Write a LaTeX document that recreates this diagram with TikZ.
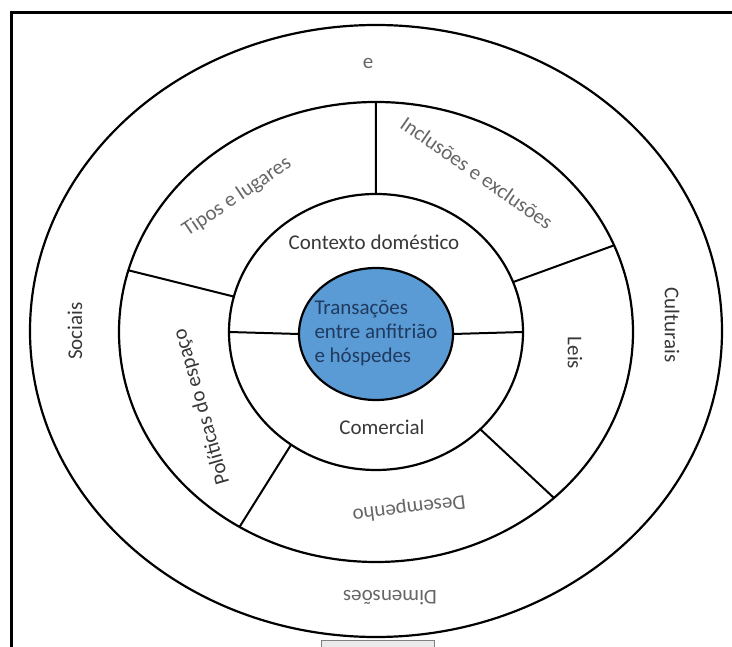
\documentclass[tikz,border=0pt]{standalone}
\usepackage{fontspec}
\setmainfont{Carlito}
\usetikzlibrary{shapes.geometric}

\definecolor{coreblue}{HTML}{5B9BD5}
\definecolor{corenavy}{HTML}{1F3A5F}

\begin{document}
\begin{tikzpicture}[x=1pt,y=1pt,line width=2.2pt,
        ring/.style={ellipse,draw,inner sep=0pt,outer sep=0pt},
        lbl/.style={font=\fontsize{21}{24}\selectfont,text=black!78},
        faint/.style={lbl,text=black!60}]
    \useasboundingbox (-376,332) rectangle (356,-315);
    \draw[line width=3pt] (-364,-340) |- (370,319);

    \node[ring,minimum width=692,minimum height=612]                at (0,1)        (e_out)  {};
    \node[ring,minimum width=514,minimum height=460]                at (0,0)        (e_mid)  {};
    \node[ring,minimum width=294,minimum height=276]                at (0,0)        (e_in)   {};
    \node[ring,fill=coreblue,minimum width=154,minimum height=132]  at (0,-2)       (e_core) {};

    \path[draw,line width=2pt]
    (e_in.90)   -- (e_mid.90)
    (e_in.166)  -- (e_mid.166)
    (e_in.20)   -- (e_mid.20)
    (e_in.-43)  -- (e_mid.-43)
    (e_in.-127) -- (e_mid.-125)
    (e_in.180)  -- (e_core.180)
    (e_in.0)    -- (e_core.0);

    \node[faint]                    at (-8,269)     (l_e)     {e};
    \node[faint,rotate=180]         at (14,-266)    (l_dim)   {Dimensões};
    \node[lbl,rotate=90]            at (-301,1)     (l_soc)   {Sociais};
    \node[lbl,rotate=-90]           at (296,7)      (l_cult)  {Culturais};

    \node[faint,rotate=34]          at (-139,135)   (l_tipos) {Tipos e lugares};
    \node[faint,rotate=-35]         at (101,159)    (l_incl)  {Inclusões e exclusões};
    \node[lbl,rotate=-90]           at (199,-21)    (l_leis)  {Leis};
    \node[lbl,rotate=106]           at (-174,-75)   (l_pol)   {Políticas do espaço};
    \node[faint,rotate=187]         at (33,-176)    (l_des)   {Desempenho};

    \node[lbl]                      at (-2,90)      (l_dom)   {Contexto doméstico};
    \node[lbl]                      at (6,-95)      (l_com)   {Comercial};
    \node[lbl,text=corenavy,align=left] at (0,-1)   (l_core)  {Transações\\entre anfitrião\\e hóspedes};

    \node[draw=black!50,fill=black!8,line width=1pt,minimum width=113,
        minimum height=16,anchor=north] at (2,-308)     (tag)     {};
\end{tikzpicture}
\end{document}
